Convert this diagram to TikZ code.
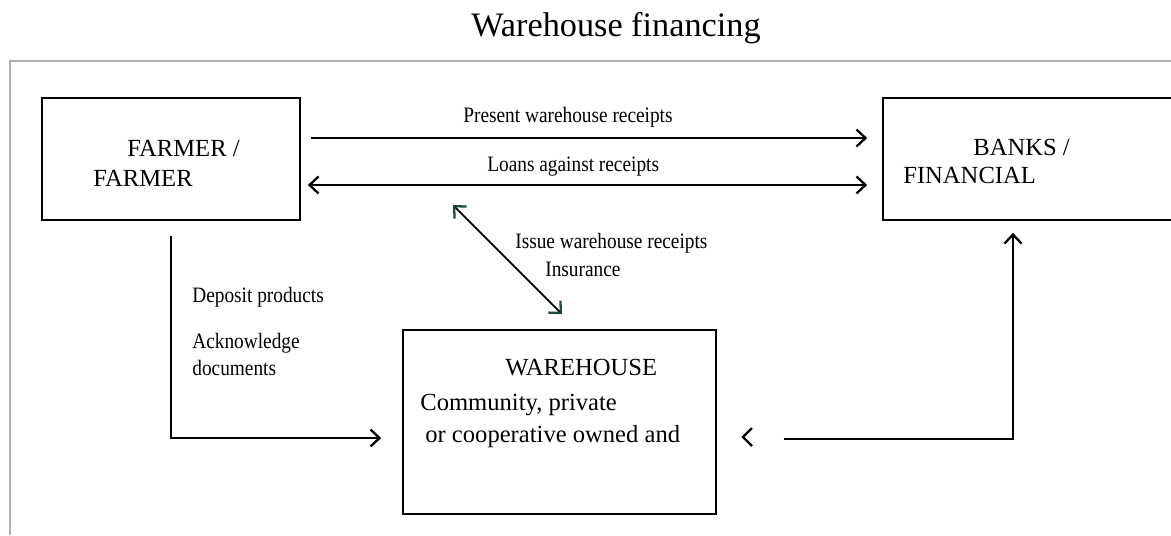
\documentclass[tikz,border=0pt]{standalone}
\usepackage{fontspec}
\setmainfont{Liberation Serif}
\newfontfamily\lblfont{Liberation Serif}[FakeStretch=0.88]
\usetikzlibrary{arrows.meta}
\definecolor{framegray}{RGB}{175,175,175}
\definecolor{tipgreen}{RGB}{25,75,50}

\begin{document}
\begin{tikzpicture}[x=0.02cm, y=-0.02cm,
    >={Straight Barb[length=0.18cm, width=0.34cm, line width=1.3pt]},
    box/.style={draw, line width=1pt, inner sep=0pt, minimum height=2.44cm},
    boxtext/.style={anchor=west, inner sep=0pt, font=\fontsize{14}{16}\selectfont},
    lbl/.style={anchor=west, inner sep=0pt, font=\lblfont\fontsize{12.5}{15}\selectfont},
    arr/.style={line width=1pt, ->},
    dblarr/.style={line width=1pt, <->}]
    \useasboundingbox (0,0) rectangle (1171,535);
    % Title and frame
    \node[font=\fontsize{19.5}{22}\selectfont] (title) at (616,28) {Warehouse financing};
    \draw[framegray, line width=1pt] (10,535) -- (10,61) -- (1171,61);
    % Boxes
    \node[box, minimum width=5.16cm] (farmer) at (171,159) {};
    \node[box, minimum width=7.14cm] (banks) at (1061.5,159) {};
    \node[box, minimum width=6.26cm, minimum height=3.68cm] (warehouse) at (559.5,422) {};
    \node[boxtext] (farmer1) at (127,148) {FARMER /};
    \node[boxtext] (farmer2) at (93,178) {FARMER};
    \node[boxtext] (banks1) at (973,147) {BANKS /};
    \node[boxtext] (banks2) at (903,175) {FINANCIAL};
    \node[boxtext] (wh1) at (505,368) {WAREHOUSE};
    \node[boxtext] (wh2) at (420,405) {Community, private};
    \node[boxtext] (wh3) at (425,437) {or cooperative owned and};
    % Receipts and loans
    \draw[arr, shorten <=0.2cm, shorten >=0.3cm]
        ([yshift=0.42cm]farmer.east) -- ([yshift=0.42cm]banks.west);
    \draw[dblarr, shorten <=0.14cm, shorten >=0.3cm]
        ([yshift=-0.52cm]farmer.east) -- ([yshift=-0.52cm]banks.west);
    \node[lbl] (present) at (463,117) {Present warehouse receipts};
    \node[lbl] (loans) at (487,167) {Loans against receipts};
    % Issue receipts
    \coordinate (loanpt) at (453,205);
    \draw[line width=1pt, {Straight Barb[length=0.18cm, width=0.34cm, line width=1.3pt, color=tipgreen]}-{Straight Barb[length=0.18cm, width=0.34cm, line width=1.3pt, color=tipgreen]}]
        (loanpt) -- ([xshift=0.05cm, yshift=0.3cm]warehouse.north);
    \node[lbl] (issue) at (515,243) {Issue warehouse receipts};
    \node[lbl] (insur) at (545,269) {Insurance};
    % Deposit
    \draw[arr, shorten <=0.3cm, shorten >=0.42cm]
        (farmer.south) |- ([yshift=-0.32cm]warehouse.west);
    \node[lbl] (deposit) at (192,297) {Deposit products};
    \node[lbl] (ack1) at (192,343) {Acknowledge};
    \node[lbl] (ack2) at (192,368) {documents};
    % Warehouse to banks
    \draw[arr, shorten >=0.24cm]
        ([xshift=1.34cm, yshift=-0.34cm]warehouse.east) -| ([xshift=-0.97cm]banks.south);
    \draw[line width=1.3pt, line join=miter] (752,428) -- (743,437) -- (752,446);
\end{tikzpicture}
\end{document}
